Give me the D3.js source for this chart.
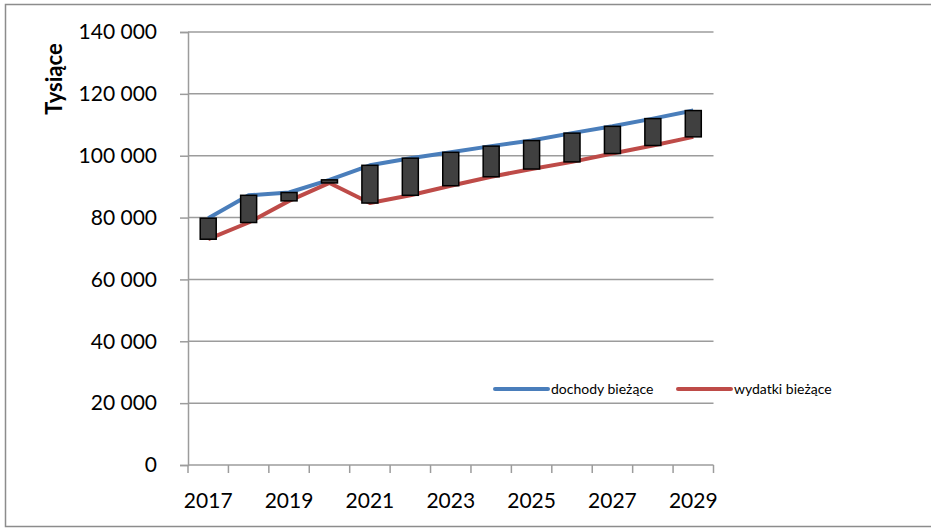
<!DOCTYPE html>
<html>
<head>
<meta charset="utf-8">
<script src="https://cdn.jsdelivr.net/npm/d3@7"></script>
<style>
  html, body { margin: 0; padding: 0; background: #fff; }
  svg { display: block; font-family: Lato, "Open Sans", sans-serif; }
</style>
</head>
<body>
<svg id="chart" width="931" height="528"></svg>
<script>
const years = ["2017","2018","2019","2020","2021","2022","2023","2024","2025","2026","2027","2028","2029"];
const labelYears = ["2017","2019","2021","2023","2025","2027","2029"];
const dochody = [79800, 87200, 88100, 92200, 96900, 99200, 101100, 103100, 104900, 107300, 109500, 112000, 114600];
const wydatki = [73000, 78400, 85400, 91200, 84700, 87200, 90300, 93200, 95700, 98000, 100700, 103300, 106100];
const yTicks = [0, 20000, 40000, 60000, 80000, 100000, 120000, 140000];
const seriesNames = ["dochody bieżące", "wydatki bieżące"];
const colors = ["#4A7EBB", "#BE4B48"];

const svg = d3.select("#chart");
const plotL = 188, plotR = 713.5, plotT = 32, plotB = 465;

const locale = d3.formatLocale({decimal: ",", thousands: " ", grouping: [3], currency: ["", " zł"]});
const fmt = locale.format(",.0f");

const x = d3.scaleBand().domain(years).range([plotL, plotR]).padding(0);
const y = d3.scaleLinear().domain([0, 140000]).range([plotB, plotT]);
const cx = d => x(d) + x.bandwidth() / 2;

// outer frame
svg.append("rect").attr("x", 5.5).attr("y", 4.5).attr("width", 940).attr("height", 522)
  .attr("fill", "none").attr("stroke", "#8c8c8c").attr("stroke-width", 1.5);

// gridlines
svg.append("g").selectAll("line").data(yTicks.filter(d => d > 0)).join("line")
  .attr("x1", plotL).attr("x2", plotR)
  .attr("y1", d => y(d)).attr("y2", d => y(d))
  .attr("stroke", "#9c9c9c").attr("stroke-width", 1.5);

// y axis
const yAxis = svg.append("g").attr("transform", `translate(${plotL},0)`)
  .call(d3.axisLeft(y).tickValues(yTicks).tickSize(8).tickPadding(23).tickFormat(fmt));
yAxis.select(".domain").attr("stroke", "#9c9c9c").attr("stroke-width", 1.5);
yAxis.selectAll(".tick line").attr("stroke", "#9c9c9c").attr("stroke-width", 1.5);
yAxis.selectAll(".tick text").attr("font-size", 21).attr("fill", "#000")
  .attr("font-family", "Lato, 'Open Sans', sans-serif");

// x axis line + boundary ticks
const xg = svg.append("g");
xg.append("line").attr("x1", plotL).attr("x2", plotR).attr("y1", plotB).attr("y2", plotB)
  .attr("stroke", "#9c9c9c").attr("stroke-width", 1.5);
const bounds = years.map(d => x(d)).concat([x(years[years.length - 1]) + x.bandwidth()]);
xg.selectAll("line.tk").data(bounds).join("line").attr("class", "tk")
  .attr("x1", d => d).attr("x2", d => d).attr("y1", plotB).attr("y2", plotB + 8)
  .attr("stroke", "#9c9c9c").attr("stroke-width", 1.5);
xg.selectAll("text").data(labelYears).join("text")
  .attr("x", d => cx(d)).attr("y", 508)
  .attr("text-anchor", "middle").attr("font-size", 21).attr("fill", "#000")
  .text(d => d);

// y title
svg.append("text").attr("transform", "translate(62,79) rotate(-90)")
  .attr("text-anchor", "middle").attr("font-size", 22).attr("font-weight", "bold")
  .attr("fill", "#000").text("Tysiące");

// lines
const line = d3.line().x((d, i) => cx(years[i])).y(d => y(d));
[dochody, wydatki].forEach((s, k) => {
  svg.append("path").datum(s).attr("d", line).attr("fill", "none")
    .attr("stroke", colors[k]).attr("stroke-width", 4).attr("stroke-linejoin", "round");
});

// up-down bars
const bw = 16;
svg.append("g").selectAll("rect").data(years).join("rect")
  .attr("x", d => cx(d) - bw / 2)
  .attr("y", (d, i) => y(Math.max(dochody[i], wydatki[i])))
  .attr("width", bw)
  .attr("height", (d, i) => Math.abs(y(dochody[i]) - y(wydatki[i])))
  .attr("fill", "#404040").attr("stroke", "#000").attr("stroke-width", 1.5);

// legend
const legX = [495, 678];
seriesNames.forEach((n, k) => {
  svg.append("line").attr("x1", legX[k]).attr("x2", legX[k] + 53).attr("y1", 389).attr("y2", 389)
    .attr("stroke", colors[k]).attr("stroke-width", 4).attr("stroke-linecap", "round");
  svg.append("text").attr("x", legX[k] + 56).attr("y", 394).attr("font-size", 14)
    .attr("fill", "#000").text(n);
});
</script>
</body>
</html>
